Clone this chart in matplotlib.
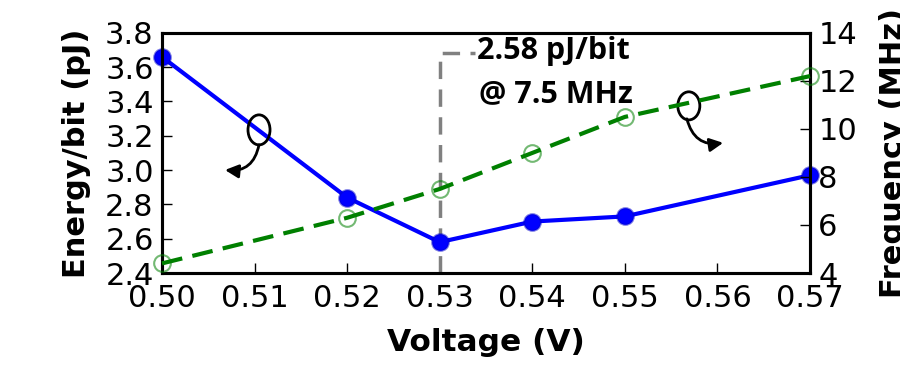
import matplotlib
matplotlib.use("Agg")
import matplotlib.pyplot as plt
from matplotlib.patches import Ellipse

voltage = [0.50, 0.52, 0.53, 0.54, 0.55, 0.57]
energy = [3.66, 2.84, 2.58, 2.70, 2.73, 2.97]
frequency = [4.4, 6.3, 7.5, 9.0, 10.5, 12.2]
xticks = [0.50, 0.51, 0.52, 0.53, 0.54, 0.55, 0.56, 0.57]
yticks_left = [2.4, 2.6, 2.8, 3.0, 3.2, 3.4, 3.6, 3.8]
yticks_right = [4, 6, 8, 10, 12, 14]
opt_v, opt_e, opt_f = 0.53, 2.58, 7.5

plt.rcParams['font.family'] = ['DejaVu Sans']

fig = plt.figure(figsize=(9, 3.65), dpi=100)
ax = fig.add_axes([0.18, 0.252, 0.72, 0.658])
ax2 = ax.twinx()

# energy line
ax.plot(voltage, energy, color='blue', lw=3, marker='o', markersize=12,
        markerfacecolor='blue', markeredgecolor=(0, 0, 0.8, 0.5), markeredgewidth=1.5,
        zorder=4, clip_on=False)
# frequency line
ax2.plot(voltage, frequency, color='green', lw=3, dashes=(5, 2.5), marker='o',
         markersize=12, markerfacecolor='none', markeredgecolor=(0, 0.5, 0, 0.55),
         markeredgewidth=1.5, zorder=4, clip_on=False)

# optimum marker line
ax.plot([opt_v, opt_v, opt_v + 0.0038], [2.4, 3.68, 3.68], color='gray', lw=2.5,
        dashes=(5, 3), zorder=2)
ax.text(opt_v + 0.0040, 3.695, f"{opt_e:.2f} pJ/bit", fontsize=22, fontweight='bold',
        family=['Open Sans', 'DejaVu Sans'], va='center', ha='left')
ax.text(opt_v + 0.0042, 3.44, f"@ {opt_f} MHz", fontsize=22, fontweight='bold',
        family=['Open Sans', 'DejaVu Sans'], va='center', ha='left')

ax.set_xlim(0.50, 0.57)
ax.set_ylim(2.4, 3.8)
ax2.set_ylim(4, 14)
ax.set_xticks(xticks)
ax.set_xticklabels([f"{v:.2f}" for v in xticks])
ax.set_yticks(yticks_left)
ax.set_yticklabels([f"{v:.1f}" for v in yticks_left])
ax2.set_yticks(yticks_right)

for a in (ax, ax2):
    for s in a.spines.values():
        s.set_linewidth(2.2)
    a.tick_params(direction='in', length=7, width=1, labelsize=22, pad=6)
ax.tick_params(axis='x', pad=8)

ax.set_xlabel("Voltage (V)", fontsize=22.5, fontweight='bold', labelpad=11)
ax.set_ylabel("Energy/bit (pJ)", fontsize=22, fontweight='bold', labelpad=10)
ax2.set_ylabel("Frequency (MHz)", fontsize=22, fontweight='bold', labelpad=16)

# ellipses with arrows
e1 = Ellipse((0.1497, 0.596), 0.034, 0.125, transform=ax.transAxes, fill=False,
             lw=2, ec='black', zorder=6)
e2 = Ellipse((0.813, 0.696), 0.034, 0.117, transform=ax.transAxes, fill=False,
             lw=2, ec='black', zorder=6)
ax.add_patch(e1)
ax.add_patch(e2)
ax.annotate("", xy=(0.0972, 0.429), xytext=(0.1497, 0.534), xycoords='axes fraction',
            arrowprops=dict(arrowstyle='-|>,head_length=0.8,head_width=0.4', lw=2,
                            color='black', connectionstyle='arc3,rad=-0.45',
                            shrinkA=0, shrinkB=0))
ax.annotate("", xy=(0.866, 0.542), xytext=(0.810, 0.642), xycoords='axes fraction',
            arrowprops=dict(arrowstyle='-|>,head_length=0.8,head_width=0.4', lw=2,
                            color='black', connectionstyle='arc3,rad=0.45',
                            shrinkA=0, shrinkB=0))

fig.savefig("out.png", dpi=100)
